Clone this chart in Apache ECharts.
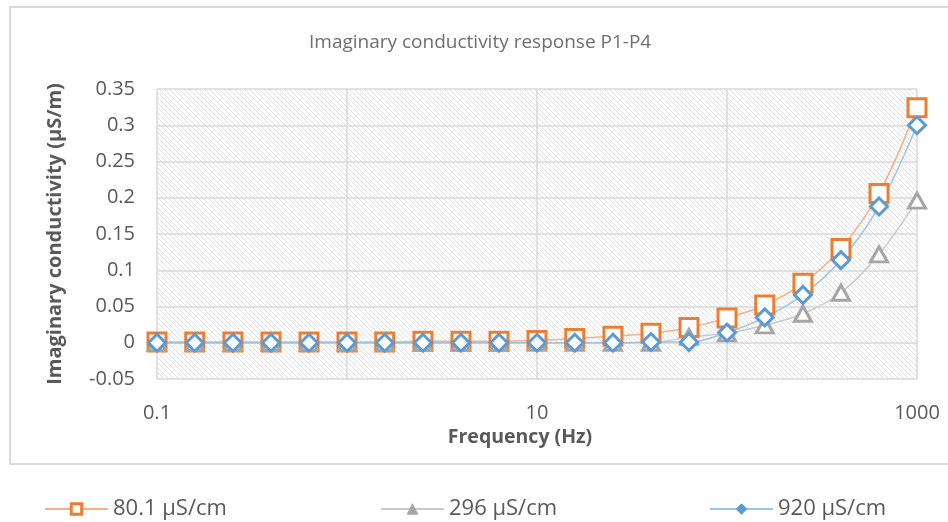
<!DOCTYPE html>
<html>
<head>
<meta charset="utf-8">
<script src="https://cdn.jsdelivr.net/npm/echarts@6/dist/echarts.min.js"></script>
<style>
  html, body { margin: 0; padding: 0; background: #fff; }
  #chart { width: 948px; height: 522px; }
</style>
</head>
<body>
<div id="chart"></div>
<script>
// Measurement frequencies (Hz), five per decade
const frequencies = [0.1, 0.158, 0.251, 0.398, 0.631, 1, 1.58, 2.51, 3.98, 6.31,
  10, 15.8, 25.1, 39.8, 63.1, 100, 158, 251, 398, 631, 1000];

// Imaginary conductivity (µS/m) for each fluid conductivity
const sigma80 = [0.001, 0.001, 0.001, 0.001, 0.001, 0.001, 0.001, 0.002, 0.002, 0.002,
  0.003, 0.006, 0.009, 0.013, 0.021, 0.034, 0.052, 0.082, 0.130, 0.206, 0.324];
const sigma296 = [0, 0, 0, 0, 0, 0, 0, 0, 0, 0,
  0, 0, 0, 0, 0.008, 0.013, 0.024, 0.040, 0.069, 0.122, 0.196];
const sigma920 = [0, 0, 0, 0, 0, 0, 0, 0, 0, 0,
  0, 0, 0, 0.001, 0.001, 0.014, 0.035, 0.066, 0.114, 0.188, 0.300];

const seriesNames = ['80.1 µS/cm', '296 µS/cm', '920 µS/cm'];
const xTickLabels = ['0.1', '10', '1000'];

// Diagonal hatch tile for the plot area
function hatchTile() {
  const n = 5;
  const c = document.createElement('canvas');
  c.width = n; c.height = n;
  const ctx = c.getContext('2d');
  ctx.fillStyle = '#ffffff';
  ctx.fillRect(0, 0, n, n);
  ctx.fillStyle = '#e0e0e0';
  for (let i = 0; i < n; i++) ctx.fillRect(i, i, 1, 1);
  return c;
}

const pairs = arr => frequencies.map((f, i) => [f, arr[i]]);
const FONT = '"Open Sans", "Liberation Sans", sans-serif';
const TXT = '#595959';
const GRIDC = '#d9d9d9';

function lineSeries(name, values, lineColor, markColor, symbol, size) {
  return {
    name: name,
    type: 'line',
    data: pairs(values),
    smooth: 0.35,
    symbol: symbol,
    symbolSize: size,
    showAllSymbol: true,
    lineStyle: { color: lineColor, width: 1.5 },
    itemStyle: { color: '#ffffff', borderColor: markColor, borderWidth: 3 },
    emphasis: { disabled: true },
    animation: false
  };
}

function legendAt(left, name, style) {
  return {
    left: left, top: 493,
    itemWidth: 63, itemHeight: 13, itemGap: 8,
    data: [{ name: name, itemStyle: style }],
    textStyle: { fontFamily: FONT, fontSize: 22, color: TXT },
    selectedMode: false
  };
}

const chart = echarts.init(document.getElementById('chart'), null, { renderer: 'canvas' });
chart.setOption({
  backgroundColor: '#ffffff',
  animation: false,
  title: {
    text: 'Imaginary conductivity response P1-P4',
    left: 304, top: 28,
    textStyle: { fontFamily: FONT, fontSize: 19, fontWeight: 'normal', color: '#6e6e6e' }
  },
  graphic: [{
    type: 'rect', z: -1,
    shape: { x: 10, y: 7, width: 960, height: 457 },
    style: { fill: 'none', stroke: '#d9d9d9', lineWidth: 2 }
  }],
  grid: {
    left: 157, right: 31, top: 89, bottom: 143,
    show: true,
    backgroundColor: { image: hatchTile(), repeat: 'repeat' },
    borderWidth: 0
  },
  legend: [
    legendAt(39, seriesNames[0], { color: '#ffffff', borderColor: '#ed7d31', borderWidth: 3 }),
    legendAt(375, seriesNames[1], { color: '#a5a5a5', borderColor: '#a5a5a5', borderWidth: 1 }),
    legendAt(704, seriesNames[2], { color: '#5b9bd5', borderColor: '#5b9bd5', borderWidth: 1 })
  ],
  xAxis: {
    type: 'log', logBase: 10, min: 0.1, max: 1000,
    name: 'Frequency (Hz)', nameLocation: 'middle', nameGap: 24,
    nameTextStyle: { fontFamily: FONT, fontSize: 19.5, fontWeight: 'bold', color: TXT, padding: [0, 34, 0, 0] },
    axisLine: { show: false, onZero: false },
    axisTick: { show: false },
    axisLabel: {
      margin: 24, fontFamily: FONT, fontSize: 20, color: TXT,
      formatter: v => {
        const e = Math.round(Math.log10(v)) + 1;
        return e % 2 === 0 ? xTickLabels[e / 2] : '';
      }
    },
    splitLine: { show: true, lineStyle: { color: GRIDC, width: 1.5 } }
  },
  yAxis: {
    type: 'value', min: -0.05, max: 0.35, interval: 0.05,
    name: 'Imaginary conductivity (µS/m)', nameLocation: 'middle', nameGap: 92, nameRotate: 90,
    nameTextStyle: { fontFamily: FONT, fontSize: 20, fontWeight: 'bold', color: TXT },
    axisLine: { show: false },
    axisTick: { show: false },
    axisLabel: {
      margin: 22, fontFamily: FONT, fontSize: 20, color: TXT,
      formatter: v => String(parseFloat(v.toFixed(2)))
    },
    splitLine: { show: true, lineStyle: { color: GRIDC, width: 1.5 } }
  },
  series: [
    lineSeries(seriesNames[0], sigma80, '#f4b183', '#ed7d31', 'rect', 18),
    lineSeries(seriesNames[1], sigma296, '#c9c9c9', '#a5a5a5', 'triangle', [17, 15]),
    lineSeries(seriesNames[2], sigma920, '#9dc3e6', '#5b9bd5', 'diamond', 17)
  ]
});
</script>
</body>
</html>
